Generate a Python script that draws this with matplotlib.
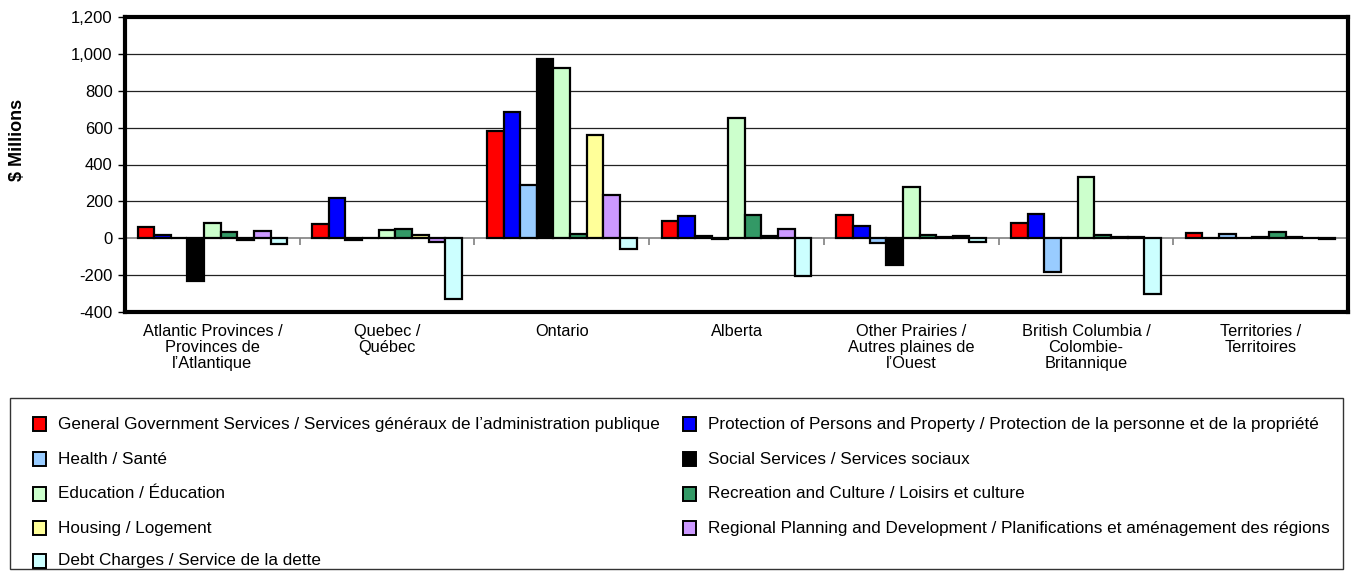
import matplotlib
matplotlib.use("Agg")
import matplotlib.pyplot as plt
from matplotlib.patches import Rectangle
import numpy as np

plt.rcParams['font.family'] = ['Liberation Sans', 'DejaVu Sans']

regions = [
    "Atlantic Provinces /\nProvinces de\nl’Atlantique",
    "Quebec /\nQuébec",
    "Ontario",
    "Alberta",
    "Other Prairies /\nAutres plaines de\nl’Ouest",
    "British Columbia /\nColombie-\nBritannique",
    "Territories /\nTerritoires",
]

series_names = [
    "General Government Services / Services généraux de l’administration publique",
    "Protection of Persons and Property / Protection de la personne et de la propriété",
    "Health / Santé",
    "Social Services / Services sociaux",
    "Education / Éducation",
    "Recreation and Culture / Loisirs et culture",
    "Housing / Logement",
    "Regional Planning and Development / Planifications et aménagement des régions",
    "Debt Charges / Service de la dette",
]

series_colors = ["#FF0000", "#0000FF", "#99CCFF", "#000000", "#CCFFCC",
                 "#339966", "#FFFF99", "#CC99FF", "#CCFFFF"]

# $ millions, one list per series, in region order
general_gov   = [61, 80, 580, 92, 127, 82, 29]
protection    = [15, 221, 683, 118, 65, 132, 2]
health        = [1, -9, 291, 14, -24, -184, 22]
social        = [-231, 4, 971, -6, -145, 1, 1]
education     = [85, 43, 926, 654, 280, 331, 9]
recreation    = [33, 49, 25, 127, 16, 18, 33]
housing       = [-11, 16, 562, 13, 7, 5, 8]
regional      = [40, -18, 233, 51, 13, 5, 3]
debt          = [-29, -329, -60, -204, -20, -304, -3]

values = [general_gov, protection, health, social, education,
          recreation, housing, regional, debt]

yticks = [-400, -200, 0, 200, 400, 600, 800, 1000, 1200]

W, H = 1351, 573
fig = plt.figure(figsize=(W / 100, H / 100), dpi=100)
ax = fig.add_axes([125 / W, 1 - 312 / H, 1223 / W, 295 / H])

n = len(values)
bw = 0.0952
x = np.arange(len(regions))
for j, (vals, col) in enumerate(zip(values, series_colors)):
    ax.bar(x + (j - (n - 1) / 2) * bw, vals, width=bw, color=col,
           edgecolor="black", linewidth=1.6, zorder=3)

ax.set_xlim(-0.5, len(regions) - 0.5)
ax.set_ylim(yticks[0], yticks[-1])
ax.set_yticks(yticks)
ax.set_yticklabels([f"{v:,}" for v in yticks], fontsize=12)
ax.tick_params(axis="y", direction="out", length=5, width=1, pad=4)
ax.set_xticks([])
for yv in yticks[1:-1]:
    if yv != 0:
        ax.axhline(yv, color="#222222", lw=0.9, zorder=1)
# category axis through zero with boundary tick marks
ax.axhline(0, color="#808080", lw=1.2, zorder=2)
ax.vlines(np.arange(len(regions) - 1) + 0.5, -38, 0, color="#808080", lw=1.2, zorder=2)

for s in ax.spines.values():
    s.set_linewidth(3)
    s.set_color("black")

for xi, lab in zip(x, regions):
    ax.text(xi, -0.04, lab, transform=ax.get_xaxis_transform(), ha="center",
            va="top", fontsize=11.8, linespacing=1.1)

fig.text(17 / W, 1 - 140 / H, "$ Millions", rotation=90, ha="center",
         va="center", fontsize=13, fontweight="bold")

# legend box with two columns of entries
fig.patches.append(Rectangle((10 / W, 1 - 569 / H), 1333 / W, 171 / H,
                             transform=fig.transFigure, fill=False,
                             edgecolor="#333333", lw=1.0))
col_left = [[0, 2, 4, 6, 8], [1, 3, 5, 7]]
col_x = [33, 683]
row_y = [424, 459, 494, 528, 561]
for c, idxs in enumerate(col_left):
    for r, k in enumerate(idxs):
        cx, cy = col_x[c], row_y[r]
        fig.patches.append(Rectangle((cx / W, 1 - (cy + 7) / H), 13 / W, 14 / H,
                                     transform=fig.transFigure,
                                     facecolor=series_colors[k],
                                     edgecolor="black", lw=1.4))
        fig.text((cx + 25) / W, 1 - cy / H, series_names[k], ha="left",
                 va="center", fontsize=12.3)

fig.savefig("out.png", dpi=100)
